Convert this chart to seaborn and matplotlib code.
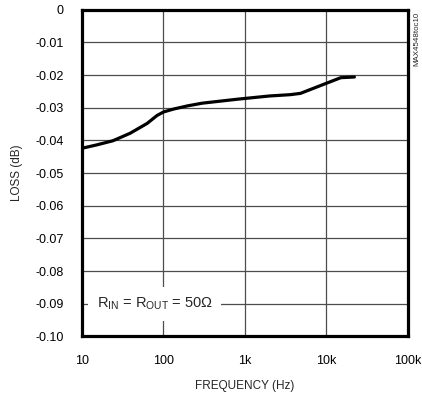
import matplotlib
matplotlib.use("Agg")
import matplotlib.pyplot as plt
import seaborn as sns
import pandas as pd

freq_hz = [10, 15, 24, 39, 63, 83, 100, 133, 200, 300, 800, 2000, 3600, 4800, 5800, 10000, 15000, 22000]
loss_db = [-0.0424, -0.0414, -0.0401, -0.0378, -0.0348, -0.0324, -0.0313, -0.0304, -0.0294,
           -0.0286, -0.0274, -0.0264, -0.0260, -0.0256, -0.0248, -0.0225, -0.0208, -0.0206]
x_ticks = [10, 100, 1000, 10000, 100000]
x_tick_labels = ["10", "100", "1k", "10k", "100k"]
y_ticks = [0, -0.01, -0.02, -0.03, -0.04, -0.05, -0.06, -0.07, -0.08, -0.09, -0.10]
y_tick_labels = ["0", "-0.01", "-0.02", "-0.03", "-0.04", "-0.05", "-0.06", "-0.07", "-0.08", "-0.09", "-0.10"]

sns.set_style("white")
plt.rcParams["font.family"] = ["Liberation Sans", "DejaVu Sans"]
plt.rcParams["mathtext.fontset"] = "custom"
plt.rcParams["mathtext.rm"] = "Liberation Sans"

df = pd.DataFrame({"freq": freq_hz, "loss": loss_db})

fig = plt.figure(figsize=(4.22, 3.96), dpi=100)
ax = fig.add_axes([0.1943, 0.1503, 0.9668 - 0.1943, 0.9755 - 0.1503])

sns.lineplot(data=df, x="freq", y="loss", ax=ax, color="black", linewidth=2.3, zorder=3)
ax.lines[0].set_solid_joinstyle("round")

ax.set_xscale("log")
ax.set_xlim(10, 100000)
ax.set_ylim(-0.10, 0)
ax.set_xticks(x_ticks)
ax.set_xticklabels(x_tick_labels)
ax.set_yticks(y_ticks)
ax.set_yticklabels(y_tick_labels)
ax.minorticks_off()
ax.tick_params(axis="both", length=0, labelsize=9, colors="black")
ax.tick_params(axis="y", pad=13)
ax.tick_params(axis="x", pad=13)
ax.grid(True, color="#4d4d4d", linewidth=0.9)
for s in ax.spines.values():
    s.set_visible(True)
    s.set_color("black")
    s.set_linewidth(2.3)

ax.set_xlabel("FREQUENCY (Hz)", fontsize=8.5)
ax.set_ylabel("LOSS (dB)", fontsize=8.5)
ax.xaxis.set_label_coords(0.5, -0.133)
ax.yaxis.set_label_coords(-0.181, 0.5)

ax.text(0.045, 0.099, r"R$_{\mathregular{IN}}$ = R$_{\mathregular{OUT}}$ = 50Ω", transform=ax.transAxes,
        fontsize=10.5, ha="left", va="center", zorder=4,
        bbox=dict(facecolor="white", edgecolor="none", pad=6))

fig.text(0.988, 0.97, "MAX4548toc10", rotation=90, fontsize=5.7, ha="center", va="top")

fig.savefig("out.png", dpi=100)
